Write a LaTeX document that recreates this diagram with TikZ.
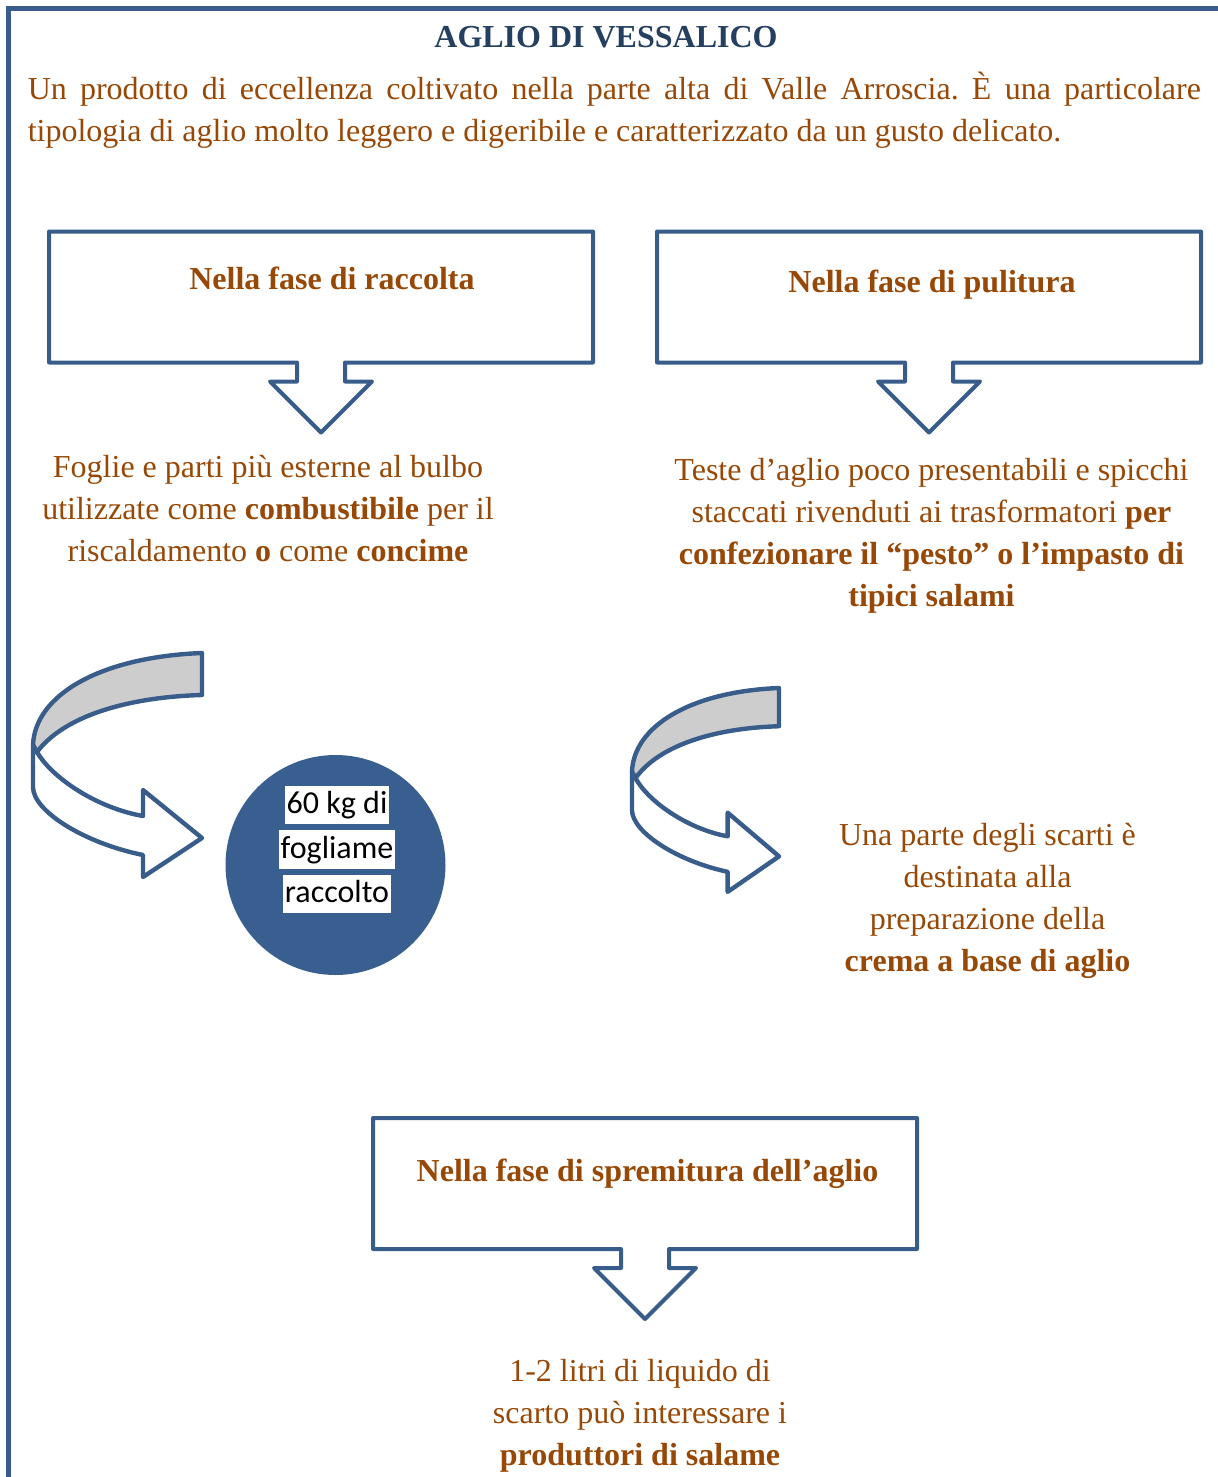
\documentclass[tikz,border=0pt]{standalone}
\usepackage{fontspec}
\setmainfont{Liberation Serif}
\newfontfamily\calibrifont{Carlito}
\usetikzlibrary{calc}
\frenchspacing

\definecolor{frameblue}{RGB}{56,93,138}
\definecolor{discblue}{RGB}{56,95,143}
\definecolor{textbrown}{RGB}{152,72,6}
\definecolor{titlenavy}{RGB}{36,63,96}
\definecolor{bandgrey}{RGB}{205,205,205}

\tikzset{
  frameline/.style={draw=frameblue, line width=1.25pt},
  calloutline/.style={draw=frameblue, line width=1pt, line join=round},
  bandline/.style={draw=frameblue, line width=1.1pt, line join=round},
  callbox/.style={minimum width=136pt, minimum height=32.75pt, inner sep=0pt, outer sep=0pt},
  bodytext/.style={text=textbrown, font=\fontsize{8pt}{10.5pt}\selectfont, inner sep=0pt},
  headtext/.style={bodytext, font=\fontsize{8pt}{10.5pt}\selectfont\bfseries, anchor=base},
  blocktext/.style={bodytext, align=center, anchor=north},
  disclabel/.style={fill=white, font=\calibrifont\fontsize{8pt}{10pt}\selectfont,
    inner xsep=0.5pt, inner ysep=0pt, text height=7pt, text depth=2.7pt},
  % freccia curva: retro grigio + fronte bianco con punta
  curvearrow/.pic={
    \filldraw[bandline, fill=bandgrey] (0,0) .. controls (-102,4) and (-167,42) .. (-169,92)
      -- (-165,99) .. controls (-137,62) and (-72,44) .. (0,42) -- cycle;
    \filldraw[bandline, fill=white] (-165,99) .. controls (-150,125) and (-105,155) .. (-59,163)
      -- (-59,137) -- (0,185) -- (-59,224) -- (-59,202)
      .. controls (-118,190) and (-169,158) .. (-169,134) -- (-169,92) -- cycle;
  }
}

% riquadro con freccia verso il basso
\newcommand{\calloutshape}[1]{%
  \draw[calloutline] (#1.south west) -- (#1.north west) -- (#1.north east) -- (#1.south east)
    -- ($(#1.south)+(24,0)$) -- ++(0,19) -- ++(27,0) -- ($(#1.south)+(0,70)$)
    -- ($(#1.south)+(-51,19)$) -- ++(27,0) -- ($(#1.south)+(-24,0)$) -- cycle;}

\begin{document}
\begin{tikzpicture}[x=0.25pt, y=-0.25pt]

\useasboundingbox (0,0) rectangle (1218,1477);

% cornice esterna
\draw[frameline] (8,1477) -- (8,8) -- (1218,8);

% titolo e introduzione
\node[headtext, text=titlenavy] (title) at (606,48) {AGLIO DI VESSALICO};
\node[bodytext, text width=293.25pt, align=justify, anchor=north west] (intro) at (27,69)
  {\strut Un prodotto di eccellenza coltivato nella parte alta di Valle Arroscia. È una particolare\linebreak
   tipologia di aglio molto leggero e digeribile e caratterizzato da un gusto delicato.};

% fase di raccolta
\node[callbox] (raccoltabox) at (321,297) {};
\calloutshape{raccoltabox}
\node[headtext] (raccolta) at (332,289) {Nella fase di raccolta};
\node[blocktext] (foglie) at (268,447.6)
  {\strut Foglie e parti più esterne al bulbo\\
   utilizzate come \textbf{combustibile} per il\\
   riscaldamento \textbf{o} come \textbf{concime}};

% fase di pulitura
\node[callbox] (puliturabox) at (929,297) {};
\calloutshape{puliturabox}
\node[headtext] (pulitura) at (932,292) {Nella fase di pulitura};
\node[blocktext] (teste) at (931.5,450.6)
  {\strut Teste d’aglio poco presentabili e spicchi\\
   staccati rivenduti ai trasformatori \textbf{per}\\
   \textbf{confezionare il “pesto” o l’impasto di}\\
   \textbf{tipici salami}};

% frecce curve
\pic[shift={(202,653)}] {curvearrow};
\pic[shift={(779,688)}, xscale=0.87, yscale=0.91] {curvearrow};

% disco del fogliame
\node[circle, fill=discblue, minimum size=55pt, inner sep=0pt] (disco) at (335.5,865) {};
\node[disclabel] (kg) at (337,805) {60 kg di};
\node[disclabel] (fogliame) at (337,849.5) {fogliame};
\node[disclabel] (raccolto) at (337,894) {raccolto};

\node[blocktext] (crema) at (987.5,815.6)
  {\strut Una parte degli scarti è\\
   destinata alla\\
   preparazione della\\
   \textbf{crema a base di aglio}};

% fase di spremitura
\node[callbox] (spremiturabox) at (645,1183.5) {};
\calloutshape{spremiturabox}
\node[headtext] (spremitura) at (647.5,1181) {Nella fase di spremitura dell’aglio};
\node[blocktext] (liquido) at (640,1351.6)
  {\strut 1-2 litri di liquido di\\
   scarto può interessare i\\
   \textbf{produttori di salame}};

\end{tikzpicture}
\end{document}
